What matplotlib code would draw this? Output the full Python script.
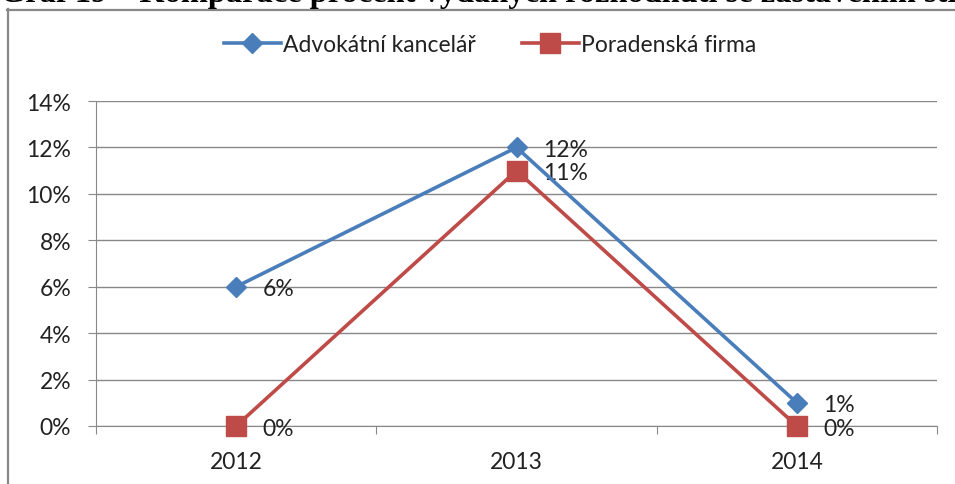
import matplotlib
matplotlib.use("Agg")
import matplotlib.pyplot as plt
from matplotlib.lines import Line2D
from matplotlib.ticker import FixedLocator, FuncFormatter

years = ["2012", "2013", "2014"]
advokatni = [6, 12, 1]
poradenska = [0, 11, 0]
series_names = ["Advokátní kancelář", "Poradenská firma"]
yticks = [0, 2, 4, 6, 8, 10, 12, 14]
caption = "Graf 19 – Komparace procent vydaných rozhodnutí se zastavením stř"

W, H = 955, 485
fig = plt.figure(figsize=(W / 100, H / 100), dpi=100)
font = "Lato"
fs = 16.5

def fx(px):
    return px / W

def fy(py):
    return 1 - py / H

# clipped caption at the top
fig.text(fx(0), fy(2), caption,
         family="Liberation Serif", weight="bold", fontsize=23.3, va="baseline", ha="left")

# chart border
fig.add_artist(Line2D([fx(7.5), fx(7.5)], [fy(10), fy(490)], color="#888888", lw=1.6))
fig.add_artist(Line2D([fx(7), fx(960)], [fy(10.5), fy(10.5)], color="#888888", lw=1.6))

ax = fig.add_axes([fx(96), fy(427), fx(937) - fx(96), fy(102) - fy(427)])
x = [0.5, 1.5, 2.5]
blue = "#4A7EBB"
red = "#BE4B48"
l1, = ax.plot(x, advokatni, color=blue, lw=2.6, marker="D", ms=10, mfc=blue, mec=blue,
              label=series_names[0], zorder=4, clip_on=False)
l2, = ax.plot(x, poradenska, color=red, lw=2.6, marker="s", ms=14, mfc=red, mec=red,
              label=series_names[1], zorder=3, clip_on=False)

for xi, v in zip(x, advokatni):
    ax.annotate(f"{v}%", (xi, v), xytext=(19, -1.5), textcoords="offset points",
                ha="left", va="center", fontsize=fs, family=font, color="#222222")
for xi, v in zip(x, poradenska):
    ax.annotate(f"{v}%", (xi, v), xytext=(19, -1.5), textcoords="offset points",
                ha="left", va="center", fontsize=fs, family=font, color="#222222")

ax.set_xlim(0, 3)
ax.set_ylim(0, 14)
ax.yaxis.set_major_locator(FixedLocator(yticks))
ax.yaxis.set_major_formatter(FuncFormatter(lambda v, p: f"{int(v)}%"))
ax.grid(axis="y", color="#888888", lw=1)
ax.set_axisbelow(True)
ax.set_xticks([0, 1, 2, 3])
ax.set_xticklabels([])
ax.set_xticks(x, minor=True)
ax.set_xticklabels(years, minor=True)
ax.tick_params(axis="x", which="major", length=6, color="#888888", direction="out")
ax.tick_params(axis="x", which="minor", length=0, pad=18, labelsize=fs)
ax.tick_params(axis="y", length=6, color="#888888", pad=12, labelsize=fs)
for lab in ax.get_xticklabels(minor=True) + ax.get_yticklabels():
    lab.set_family(font)
    lab.set_color("#222222")
for s in ["top", "right"]:
    ax.spines[s].set_visible(False)
ax.spines["left"].set_color("#888888")
ax.spines["bottom"].set_color("#888888")

leg = fig.legend(handles=[l1, l2], loc="center", bbox_to_anchor=(fx(490), fy(46)), ncol=2,
                 frameon=False, prop={"family": font, "size": fs}, handlelength=2.5,
                 columnspacing=2.0, handletextpad=0.1)
for t in leg.get_texts():
    t.set_color("#222222")

fig.savefig("out.png", dpi=100)
